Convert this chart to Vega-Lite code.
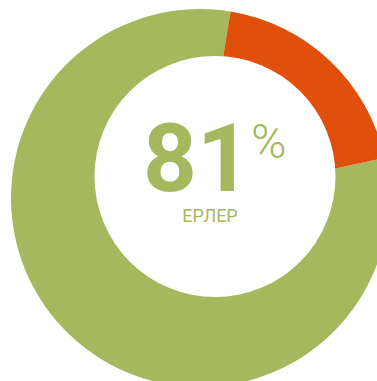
{
  "$schema": "https://vega.github.io/schema/vega-lite/v6.json",
  "width": 354,
  "height": 366,
  "autosize": {"type": "none"},
  "padding": {"left": 23, "top": 15, "right": 0, "bottom": 0},
  "background": "white",
  "config": {"view": {"stroke": null}},
  "data": {"values": [
    {"gender": "ЕРЛЕР", "percent": 81},
    {"gender": "ӘЙЕЛДЕР", "percent": 19}
  ]},
  "layer": [
    {
      "mark": {"type": "arc", "radius": 189, "radius2": 0},
      "encoding": {
        "theta": {"field": "percent", "type": "quantitative", "stack": true, "scale": {"range": [1.3561, 7.6393]}},
        "order": {"field": "percent", "type": "quantitative", "sort": "descending"},
        "color": {"field": "gender", "type": "nominal", "legend": null,
          "scale": {"domain": ["ЕРЛЕР", "ӘЙЕЛДЕР"], "range": ["#a5b85d", "#e0500c"]}}
      }
    },
    {
      "transform": [{"filter": "datum.gender === 'ЕРЛЕР'"}],
      "mark": {"type": "arc", "radius": 120.5, "theta": 0, "theta2": 6.2832, "fill": "white",
        "x": {"expr": "width/2 + 15"}, "y": {"expr": "height/2 - 21.5"}},
      "encoding": {}
    },
    {
      "transform": [{"filter": "datum.gender === 'ЕРЛЕР'"}],
      "mark": {"type": "text", "font": "Roboto", "fontWeight": 700, "fontSize": 94, "color": "#a5b85d",
        "align": "center", "baseline": "alphabetic", "dx": -3, "dy": -7},
      "encoding": {"text": {"field": "percent", "type": "quantitative"}}
    },
    {
      "transform": [{"filter": "datum.gender === 'ЕРЛЕР'"}],
      "mark": {"type": "text", "text": "%", "font": "Roboto", "fontWeight": 300, "fontSize": 48, "color": "#a5b85d",
        "align": "left", "baseline": "alphabetic", "dx": 51, "dy": -40},
      "encoding": {}
    },
    {
      "transform": [{"filter": "datum.gender === 'ЕРЛЕР'"}],
      "mark": {"type": "text", "font": "Roboto", "fontWeight": 400, "fontSize": 18, "color": "#a5b85d",
        "align": "center", "baseline": "alphabetic", "dx": 10, "dy": 24},
      "encoding": {"text": {"field": "gender", "type": "nominal"}}
    }
  ]
}
